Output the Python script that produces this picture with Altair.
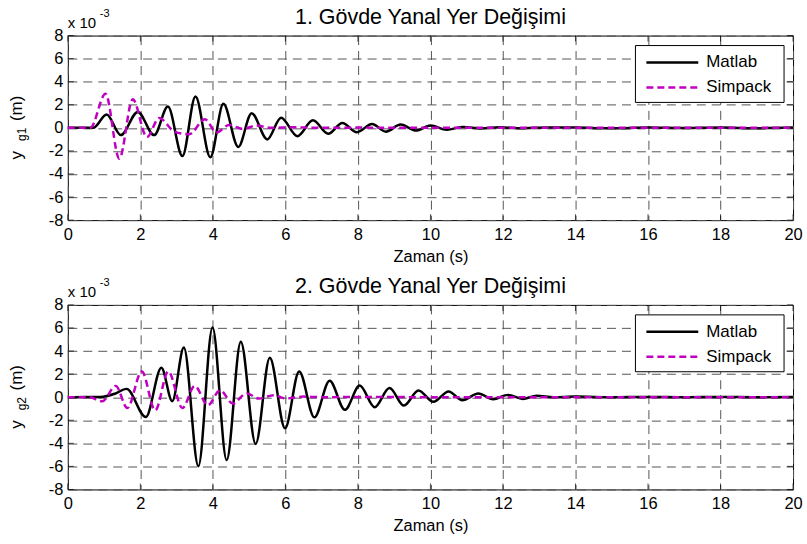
import altair as alt
import pandas as pd

FONT = "Liberation Sans"

x_ticks = list(range(0, 21, 2))
y_ticks = list(range(-8, 9, 2))

# values in units of 1e-3 m
t1_matlab = [0, 0.7, 1.07, 1.46, 1.93, 2.38, 2.76, 3.16, 3.52, 3.93, 4.29, 4.70, 5.07, 5.50,
             5.88, 6.33, 6.76, 7.18, 7.57, 7.97, 8.39, 8.77, 9.18, 9.60, 10.0, 10.45, 10.9,
             11.4, 11.9, 12.5, 13.2, 14.0, 15.0, 16.0, 17.0, 18.0, 19.0, 20.0]
v1_matlab = [0, 0, 1.15, -0.63, 1.38, -0.63, 1.85, -2.45, 2.72, -2.55, 2.08, -1.65, 1.27, -1.0,
             0.88, -0.72, 0.65, -0.52, 0.43, -0.38, 0.33, -0.33, 0.28, -0.23, 0.2, -0.17, 0.08,
             -0.06, 0.06, -0.04, 0.04, 0.02, -0.04, 0.02, -0.02, 0.02, -0.03, 0.02]
t1_simpack = [0, 0.62, 1.04, 1.42, 1.79, 2.18, 2.52, 2.95, 3.35, 3.78, 4.10, 4.45, 4.83, 5.2,
              5.6, 6.2, 7.0, 8.0, 10.0, 12.0, 14.0, 16.0, 18.0, 20.0]
v1_simpack = [0, 0, 2.95, -2.67, 2.48, -0.8, 0.85, -0.35, -0.55, 0.74, -0.4, 0.25, -0.1, 0.2,
              0.0, 0.05, 0.0, 0.02, 0.0, 0.0, 0.0, 0.0, 0.0, 0.0]

t2_matlab = [0, 0.5, 0.9, 1.3, 1.62, 2.15, 2.58, 2.88, 3.2, 3.6, 3.99, 4.38, 4.77, 5.18, 5.57,
             5.99, 6.38, 6.8, 7.22, 7.64, 8.05, 8.46, 8.87, 9.27, 9.67, 10.08, 10.5, 10.88,
             11.32, 11.73, 12.14, 12.55, 12.93, 13.4, 14.0, 15.0, 16.0, 17.0, 18.0, 19.0, 20.0]
v2_matlab = [0, 0.02, 0.02, 0.3, 0.72, -1.72, 2.55, -0.35, 4.3, -5.98, 6.05, -5.45, 4.8, -4.05,
             3.42, -2.7, 2.23, -1.75, 1.43, -1.1, 1.02, -0.87, 0.8, -0.73, 0.58, -0.4, 0.5,
             -0.27, 0.32, -0.17, 0.2, -0.15, 0.13, 0.0, 0.05, 0.0, 0.02, 0.0, 0.02, 0.0, 0.02]
t2_simpack = [0, 0.6, 0.95, 1.32, 1.64, 2.04, 2.41, 2.77, 3.16, 3.5, 3.86, 4.2, 4.55, 4.93,
              5.27, 5.68, 6.02, 6.5, 7.0, 8.0, 10.0, 12.0, 14.0, 16.0, 18.0, 20.0]
v2_simpack = [0, 0, -0.36, 0.98, -0.94, 2.23, -1.14, 2.23, -0.94, 0.97, -0.69, 0.6, -0.55, 0.33,
              -0.12, 0.17, -0.11, 0.05, 0.0, 0.02, 0.0, 0.0, 0.0, 0.0, 0.0, 0.0]

series_names = ["Matlab", "Simpack"]
series_colors = ["#000000", "#c000c0"]
titles = ["1. Gövde Yanal Yer Değişimi", "2. Gövde Yanal Yer Değişimi"]
subscripts = ["g1", "g2"]

W, H = 727, 185
one = pd.DataFrame({"k": [0]})
xtick_df = pd.DataFrame({"t": x_ticks})
ytick_df = pd.DataFrame({"v": y_ticks})


def panel(t_m, v_m, t_s, v_s, title, sub):
    df_m = pd.DataFrame({"t": t_m, "v": v_m})
    df_s = pd.DataFrame({"t": t_s, "v": v_s})
    xs = alt.Scale(domain=[0, 20], nice=False, zero=False)
    ys = alt.Scale(domain=[-8, 8], nice=False)
    xax = alt.Axis(values=x_ticks, title="Zaman (s)", grid=True, labelPadding=6,
                   titlePadding=6, labelFlush=False)
    yax = alt.Axis(values=y_ticks, title=None, grid=True, labelPadding=5,
                   labelExpr="'' + datum.value")
    X = alt.X("t:Q", scale=xs, axis=xax)
    Y = alt.Y("v:Q", scale=ys, axis=yax)

    matlab = alt.Chart(df_m).mark_line(color=series_colors[0], strokeWidth=2.5,
                                       interpolate="monotone").encode(x=X, y=Y)
    simpack = alt.Chart(df_s).mark_line(color=series_colors[1], strokeWidth=2.5,
                                        strokeDash=[7, 4], interpolate="monotone").encode(x=X, y=Y)

    tk_b = alt.Chart(xtick_df).mark_tick(orient="vertical", size=6, thickness=1,
                                         color="black").encode(x=X, y=alt.value(H - 3))
    tk_t = alt.Chart(xtick_df).mark_tick(orient="vertical", size=6, thickness=1,
                                         color="black").encode(x=X, y=alt.value(3))
    tk_l = alt.Chart(ytick_df).mark_tick(orient="horizontal", size=6, thickness=1,
                                         color="black").encode(y=Y, x=alt.value(3))
    tk_r = alt.Chart(ytick_df).mark_tick(orient="horizontal", size=6, thickness=1,
                                         color="black").encode(y=Y, x=alt.value(W - 3))

    def txt(text, x, y, size, angle=0, align="left", baseline="alphabetic"):
        kw = dict(text=text, font=FONT, fontSize=size, align=align, baseline=baseline,
                  color="black")
        if angle:
            kw["angle"] = angle
        return alt.Chart(one).mark_text(**kw).encode(x=alt.value(x), y=alt.value(y))

    ttl = txt(title, W / 2, -12, 21.5, align="center")
    exp1 = txt("x 10", 0, -8, 15)
    exp2 = txt("-3", 32, -19, 11)
    yl1 = txt("y", -46, 120, 17, angle=270, align="center")
    yl2 = txt(sub, -42, 99, 12, angle=270, align="center")
    yl3 = txt("(m)", -46, 73, 17, angle=270, align="center")

    box = alt.Chart(one).mark_rect(fill="white", stroke="black", strokeWidth=1).encode(
        x=alt.value(569), x2=alt.value(718), y=alt.value(10), y2=alt.value(67))
    lg1 = alt.Chart(one).mark_rule(color=series_colors[0], strokeWidth=2.5).encode(
        x=alt.value(580), x2=alt.value(632), y=alt.value(27))
    lg2 = alt.Chart(one).mark_rule(color=series_colors[1], strokeWidth=2.5,
                                   strokeDash=[7, 4]).encode(
        x=alt.value(580), x2=alt.value(632), y=alt.value(52))
    lt1 = txt(series_names[0], 640, 27, 17, baseline="middle")
    lt2 = txt(series_names[1], 640, 52, 17, baseline="middle")

    return alt.layer(tk_b, tk_t, tk_l, tk_r, matlab, simpack, ttl, exp1, exp2, yl1, yl2, yl3,
                     box, lg1, lg2, lt1, lt2).properties(width=W, height=H)


top = panel(t1_matlab, v1_matlab, t1_simpack, v1_simpack, titles[0], subscripts[0])
bottom = panel(t2_matlab, v2_matlab, t2_simpack, v2_simpack, titles[1], subscripts[1])

chart = alt.vconcat(top, bottom, spacing=9).properties(
    padding={"left": 7, "top": 5, "right": 4, "bottom": 0},
    background="white",
).configure_view(stroke="black", strokeWidth=1).configure_axis(
    labelFont=FONT, titleFont=FONT, labelFontSize=16.5, titleFontSize=16.5,
    labelColor="black", titleColor="black", titleFontWeight="normal",
    gridColor="#555555", gridDash=[9, 6], gridWidth=1, gridOpacity=1,
    domain=False, ticks=False, tickSize=0,
)

chart.save("out.html", embed_options={"renderer": "svg", "actions": False})
